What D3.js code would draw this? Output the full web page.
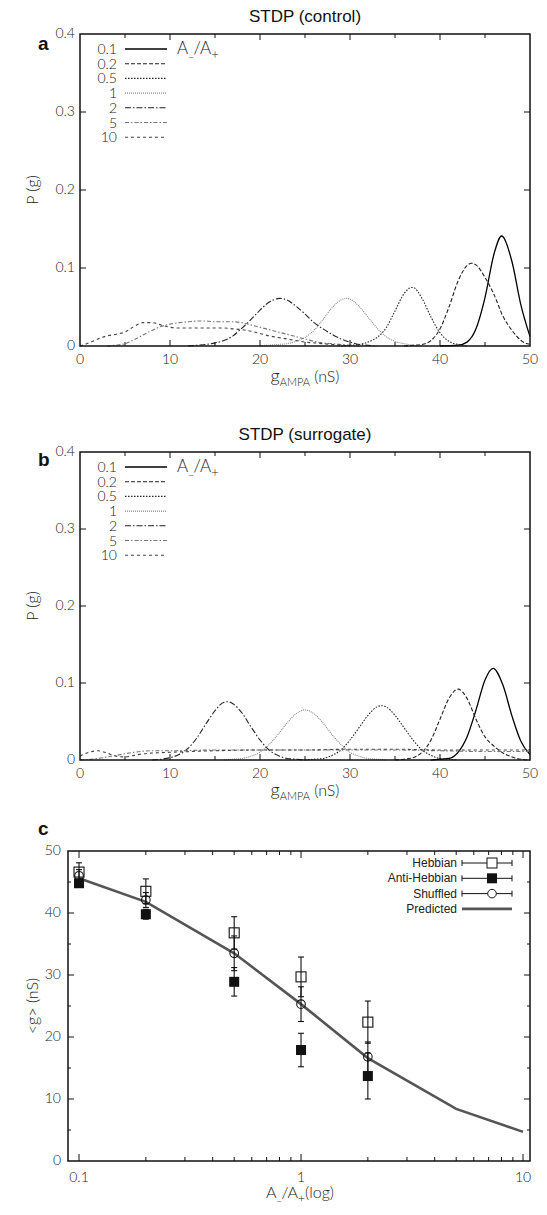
<!DOCTYPE html>
<html><head><meta charset="utf-8">
<script src="https://cdn.jsdelivr.net/npm/d3@7"></script>
<style>
body{margin:0;background:#fff;}
svg{display:block;}
.tick-label{font-family:"Lato","DejaVu Sans",sans-serif;font-weight:300;font-size:14px;fill:#222;}
.title{font-family:"Liberation Sans",Arial,sans-serif;font-size:17px;fill:#111;}
.plabel{font-family:"Liberation Sans",Arial,sans-serif;font-size:19px;font-weight:bold;fill:#111;}
.axlabel{font-family:"Lato","DejaVu Sans",sans-serif;font-weight:300;font-size:16px;fill:#222;}
.leg{font-family:"Lato","DejaVu Sans",sans-serif;font-weight:300;font-size:14px;fill:#222;}
.legc{font-family:"Liberation Sans",Arial,sans-serif;font-size:12px;fill:#222;}
</style>
</head><body>
<svg id="chart" width="547" height="1215"></svg>
<script>
// ---------- DATA ----------
const ratioLabels = ["0.1","0.2","0.5","1","2","5","10"];
const gTicks = [0,10,20,30,40,50];
const pTicks = [0,0.1,0.2,0.3,0.4];

// Panel a: STDP (control) distributions [g (nS), P(g)]
const control01 = [[40,0],[42,0.001],[43,0.005],[44,0.022],[45,0.062],[46,0.118],[46.85,0.141],[47,0.140],[48,0.108],[49,0.052],[50,0.012]];
const control02 = [[36,0],[37,0.001],[38,0.002],[39,0.007],[40,0.022],[41,0.05],[42,0.083],[43,0.103],[43.5,0.106],[44,0.104],[45,0.088],[46,0.066],[47,0.038],[48,0.02],[49,0.007],[50,0.002]];
const control05 = [[29,0],[30,0.001],[31,0.002],[32,0.005],[33,0.011],[34,0.023],[35,0.045],[36,0.067],[36.85,0.075],[37,0.075],[38,0.061],[39,0.037],[40,0.017],[41,0.006],[42,0.002],[43,0]];
const control1 = [[20,0],[21,0.001],[22,0.002],[23,0.003],[24,0.006],[25,0.011],[26,0.02],[27,0.034],[28,0.049],[29,0.059],[29.6,0.061],[30,0.06],[31,0.051],[32,0.037],[33,0.023],[34,0.012],[35,0.006],[36,0.003],[37,0.001],[38,0]];
const control2 = [[12,0],[13,0.001],[14,0.002],[15,0.004],[16,0.007],[17,0.013],[18,0.023],[19,0.034],[20,0.046],[21,0.056],[22.2,0.061],[23,0.059],[24,0.051],[25,0.041],[26,0.03],[27,0.022],[28,0.015],[29,0.009],[30,0.005],[31,0.002],[32,0.001],[33,0]];
const control5 = [[3,0],[4,0.001],[5,0.003],[6,0.008],[7,0.014],[8,0.02],[9,0.025],[10,0.028],[11,0.03],[12,0.031],[13,0.032],[14,0.032],[15,0.031],[16,0.031],[17,0.031],[18,0.03],[19,0.027],[20,0.024],[21,0.021],[22,0.018],[23,0.015],[24,0.012],[25,0.009],[26,0.006],[27,0.004],[28,0.003],[29,0.002],[30,0.001],[31,0]];
const control10 = [[0,0],[1,0.004],[2,0.009],[3,0.013],[4,0.015],[5,0.018],[6,0.025],[7,0.03],[8,0.03],[9,0.027],[10,0.024],[11,0.023],[12,0.023],[13,0.023],[14,0.023],[15,0.023],[16,0.023],[17,0.022],[18,0.021],[19,0.019],[20,0.016],[21,0.013],[22,0.011],[23,0.009],[24,0.007],[25,0.005],[26,0.004],[27,0.003],[28,0.002],[29,0.001],[30,0]];

// Panel b: STDP (surrogate) distributions
const surr01 = [[39,0],[40,0.001],[41,0.002],[42,0.01],[43,0.03],[44,0.065],[45,0.104],[45.9,0.119],[47,0.097],[48,0.057],[49,0.024],[50,0.007]];
const surr02 = [[35,0],[36,0.001],[37,0.003],[38,0.01],[39,0.026],[40,0.053],[41,0.08],[42,0.092],[43,0.08],[44,0.053],[45,0.03],[46,0.018],[47,0.009],[48,0.004],[49,0.001],[50,0]];
const surr05 = [[25,0],[26,0.001],[27,0.002],[28,0.006],[29,0.013],[30,0.026],[31,0.042],[32,0.058],[33,0.069],[33.5,0.0705],[34,0.069],[35,0.058],[36,0.042],[37,0.026],[38,0.013],[39,0.006],[40,0.002],[41,0.001],[42,0]];
const surr1 = [[16,0],[17,0.001],[18,0.002],[19,0.005],[20,0.01],[21,0.02],[22,0.033],[23,0.048],[24,0.06],[25,0.065],[26,0.06],[27,0.048],[28,0.033],[29,0.02],[30,0.01],[31,0.005],[32,0.002],[33,0.001],[34,0]];
const surr2 = [[8,0],[9,0.001],[10,0.003],[11,0.007],[12,0.015],[13,0.029],[14,0.047],[15,0.064],[16,0.075],[16.4,0.0757],[17,0.073],[18,0.061],[19,0.043],[20,0.026],[21,0.013],[22,0.006],[23,0.002],[24,0.001],[25,0]];
const surr5 = [[0,0],[2,0.002],[4,0.006],[6,0.01],[8,0.012],[10,0.012],[15,0.013],[20,0.013],[25,0.013],[30,0.013],[35,0.013],[40,0.012],[45,0.011],[50,0.011]];
const surr10 = [[0,0.005],[1,0.01],[2,0.012],[3,0.009],[4,0.005],[5,0.004],[6,0.006],[7,0.008],[8,0.009],[10,0.01],[15,0.012],[20,0.013],[25,0.013],[30,0.014],[35,0.014],[40,0.013],[45,0.013],[50,0.013]];

// Panel c: <g> vs A-/A+
const ratios = [0.1,0.2,0.5,1,2];
const hebbianMean = [46.6,43.5,36.8,29.7,22.4];
const hebbianErr  = [1.5,2.0,2.6,3.2,3.4];
const antiMean = [44.8,39.8,28.9,17.9,13.7];
const antiErr  = [0.5,0.8,2.3,2.7,3.7];
const shuffledMean = [46.0,42.1,33.5,25.3,16.8];
const shuffledErr  = [1.0,1.2,2.8,2.8,2.4];
const predRatios = [0.1,0.2,0.5,1,2,5,10];
const predicted = [45.6,41.8,33.5,25.3,16.6,8.4,4.7];
const cYTicks = [0,10,20,30,40,50];
const cXTicks = [0.1,1,10];

// ---------- DRAW ----------
const svg = d3.select("#chart");
const styles = [
  {dash:null, color:"#000", w:1.3},
  {dash:"4,2", color:"#222", w:1.1},
  {dash:"1.5,1.5", color:"#222", w:1.1},
  {dash:"1,1", color:"#888", w:1.1},
  {dash:"6,2,1.5,2", color:"#222", w:1.1},
  {dash:"4,2,1.5,2", color:"#777", w:1.1},
  {dash:"3,3", color:"#444", w:1.1}
];

function distPanel(cfg){
  const {x0,x1,y0,y1,curves,title,letter,letterY,titleY,xlabY} = cfg;
  const x = d3.scaleLinear().domain([0,50]).range([x0,x1]);
  const y = d3.scaleLinear().domain([0,0.4]).range([y1,y0]);
  const g = svg.append("g");
  const line = d3.line().x(d=>x(d[0])).y(d=>y(d[1])).curve(d3.curveMonotoneX);
  curves.forEach((c,i)=>{
    g.append("path").attr("d",line(c)).attr("fill","none")
     .attr("stroke",styles[i].color).attr("stroke-width",styles[i].w)
     .attr("stroke-dasharray",styles[i].dash);
  });
  g.append("rect").attr("x",x0).attr("y",y0).attr("width",x1-x0).attr("height",y1-y0)
   .attr("fill","none").attr("stroke","#111").attr("stroke-width",1.5);
  const xt = d3.range(0,51,5);
  xt.forEach(v=>{
    const len = v%10===0 ? 6 : 4;
    if(v>0 && v<50){
      g.append("line").attr("x1",x(v)).attr("x2",x(v)).attr("y1",y1).attr("y2",y1-len).attr("stroke","#111");
      g.append("line").attr("x1",x(v)).attr("x2",x(v)).attr("y1",y0).attr("y2",y0+len).attr("stroke","#111");
    }
  });
  gTicks.forEach(v=>{
    g.append("text").attr("class","tick-label").attr("x",x(v)).attr("y",y1+18).attr("text-anchor","middle").text(v);
  });
  pTicks.forEach(v=>{
    if(v>0 && v<0.4){
      g.append("line").attr("x1",x0).attr("x2",x0+6).attr("y1",y(v)).attr("y2",y(v)).attr("stroke","#111");
      g.append("line").attr("x1",x1).attr("x2",x1-6).attr("y1",y(v)).attr("y2",y(v)).attr("stroke","#111");
    }
    g.append("text").attr("class","tick-label").attr("x",x0-5).attr("y",y(v)+4).attr("text-anchor","end").text(v===0?"0":d3.format(".1f")(v));
  });
  g.append("text").attr("class","title").attr("x",(x0+x1)/2).attr("y",titleY).attr("text-anchor","middle").text(title);
  g.append("text").attr("class","plabel").attr("x",38).attr("y",letterY).text(letter);
  g.append("text").attr("class","axlabel").attr("transform",`translate(38,${(y0+y1)/2}) rotate(-90)`).attr("text-anchor","middle").text("P (g)");
  const xl = g.append("text").attr("class","axlabel").attr("x",(x0+x1)/2).attr("y",xlabY).attr("text-anchor","middle");
  xl.append("tspan").style("font-size","18px").text("g");
  xl.append("tspan").attr("font-size","11px").attr("dy",4).text("AMPA");
  xl.append("tspan").attr("dy",-4).text(" (nS)");
  const ly0 = y0+15, lstep = 14.7;
  ratioLabels.forEach((lab,i)=>{
    const yy = ly0 + i*lstep;
    g.append("text").attr("class","leg").attr("x",117).attr("y",yy+5).attr("text-anchor","end").text(lab);
    g.append("line").attr("x1",125).attr("x2",167).attr("y1",yy).attr("y2",yy)
     .attr("stroke",styles[i].color).attr("stroke-width",styles[i].w).attr("stroke-dasharray",styles[i].dash);
  });
  const lt = g.append("text").attr("class","axlabel").attr("x",177).attr("y",ly0+5).style("font-size","17px");
  lt.append("tspan").text("A");
  lt.append("tspan").attr("font-size","12px").attr("dy",2).text("_");
  lt.append("tspan").attr("dy",-2).text("/A");
  lt.append("tspan").attr("font-size","13px").attr("dy",5).text("+");
}

distPanel({x0:80,x1:530,y0:34,y1:346,curves:[control01,control02,control05,control1,control2,control5,control10],
  title:"STDP (control)",letter:"a",letterY:50,titleY:22,xlabY:382});
distPanel({x0:80,x1:530,y0:452,y1:760,curves:[surr01,surr02,surr05,surr1,surr2,surr5,surr10],
  title:"STDP (surrogate)",letter:"b",letterY:466,titleY:440,xlabY:796});

// Panel c
(function(){
  const x0=68,x1=530,y0=851,y1=1161;
  const x = d3.scaleLog().domain([0.0892,10.75]).range([x0,x1]);
  const y = d3.scaleLinear().domain([0,50]).range([y1,y0]);
  const g = svg.append("g");
  const minor = [];
  [0.1,1].forEach(b=>{ for(let k=1;k<=9;k++) minor.push(b*k); });
  minor.push(10);
  minor.forEach(v=>{
    const len = cXTicks.includes(v)?7:4;
    g.append("line").attr("x1",x(v)).attr("x2",x(v)).attr("y1",y1).attr("y2",y1-len).attr("stroke","#111");
    g.append("line").attr("x1",x(v)).attr("x2",x(v)).attr("y1",y0).attr("y2",y0+len).attr("stroke","#111");
  });
  d3.range(5,50,5).forEach(v=>{
    const len = v%10===0?6:3;
    g.append("line").attr("x1",x0).attr("x2",x0+len).attr("y1",y(v)).attr("y2",y(v)).attr("stroke","#111");
    g.append("line").attr("x1",x1).attr("x2",x1-len).attr("y1",y(v)).attr("y2",y(v)).attr("stroke","#111");
  });
  cYTicks.forEach(v=>{
    g.append("text").attr("class","tick-label").attr("x",x0-7).attr("y",y(v)+4).attr("text-anchor","end").text(v);
  });
  cXTicks.forEach(v=>{
    g.append("text").attr("class","tick-label").attr("x",x(v)).attr("y",y1+21).attr("text-anchor","middle").text(v);
  });
  g.append("path").attr("d",d3.line().x((d,i)=>x(predRatios[i])).y(d=>y(d))(predicted))
   .attr("fill","none").attr("stroke","#555").attr("stroke-width",2.6);
  function errbars(means,errs){
    means.forEach((m,i)=>{
      const xx=x(ratios[i]);
      g.append("line").attr("x1",xx).attr("x2",xx).attr("y1",y(m-errs[i])).attr("y2",y(m+errs[i])).attr("stroke","#111").attr("stroke-width",1.1);
      [m-errs[i],m+errs[i]].forEach(v=>g.append("line").attr("x1",xx-3).attr("x2",xx+3).attr("y1",y(v)).attr("y2",y(v)).attr("stroke","#111").attr("stroke-width",1.1));
    });
  }
  errbars(hebbianMean,hebbianErr);
  errbars(antiMean,antiErr);
  errbars(shuffledMean,shuffledErr);
  shuffledMean.forEach((m,i)=>g.append("circle").attr("cx",x(ratios[i])).attr("cy",y(m)).attr("r",4.3).attr("fill","none").attr("stroke","#111").attr("stroke-width",1.1));
  antiMean.forEach((m,i)=>g.append("rect").attr("x",x(ratios[i])-5).attr("y",y(m)-5).attr("width",10).attr("height",10).attr("fill","#111"));
  hebbianMean.forEach((m,i)=>g.append("rect").attr("x",x(ratios[i])-5).attr("y",y(m)-5).attr("width",10).attr("height",10).attr("fill","none").attr("stroke","#111").attr("stroke-width",1.1));
  g.append("rect").attr("x",x0).attr("y",y0).attr("width",x1-x0).attr("height",y1-y0)
   .attr("fill","none").attr("stroke","#111").attr("stroke-width",1.5);
  const names=["Hebbian","Anti-Hebbian","Shuffled","Predicted"];
  names.forEach((n,i)=>{
    const yy = 863 + i*15.3;
    g.append("text").attr("class","legc").attr("x",457).attr("y",yy+4).attr("text-anchor","end").text(n);
    if(i<3){
      g.append("line").attr("x1",462).attr("x2",512).attr("y1",yy).attr("y2",yy).attr("stroke","#111");
      [462,512].forEach(xx=>g.append("line").attr("x1",xx).attr("x2",xx).attr("y1",yy-3).attr("y2",yy+3).attr("stroke","#111"));
      if(i===0) g.append("rect").attr("x",487).attr("y",yy-5).attr("width",10).attr("height",10).attr("fill","#fff").attr("stroke","#111");
      if(i===1) g.append("rect").attr("x",487).attr("y",yy-5).attr("width",10).attr("height",10).attr("fill","#111");
      if(i===2) g.append("circle").attr("cx",492).attr("cy",yy).attr("r",4.3).attr("fill","#fff").attr("stroke","#111");
    } else {
      g.append("line").attr("x1",462).attr("x2",512).attr("y1",yy).attr("y2",yy).attr("stroke","#555").attr("stroke-width",2.6);
    }
  });
  g.append("text").attr("class","plabel").attr("x",38).attr("y",835).text("c");
  g.append("text").attr("class","axlabel").attr("transform",`translate(38,${(y0+y1)/2}) rotate(-90)`).attr("text-anchor","middle").text("<g>  (nS)");
  const xl = g.append("text").attr("class","axlabel").attr("x",300).attr("y",1198).attr("text-anchor","middle");
  xl.append("tspan").text("A");
  xl.append("tspan").attr("font-size","11px").attr("dy",2).text("_");
  xl.append("tspan").attr("dy",-2).text("/A");
  xl.append("tspan").attr("font-size","12px").attr("dy",4).text("+");
  xl.append("tspan").attr("dy",-4).text("(log)");
})();
</script>
</body></html>
